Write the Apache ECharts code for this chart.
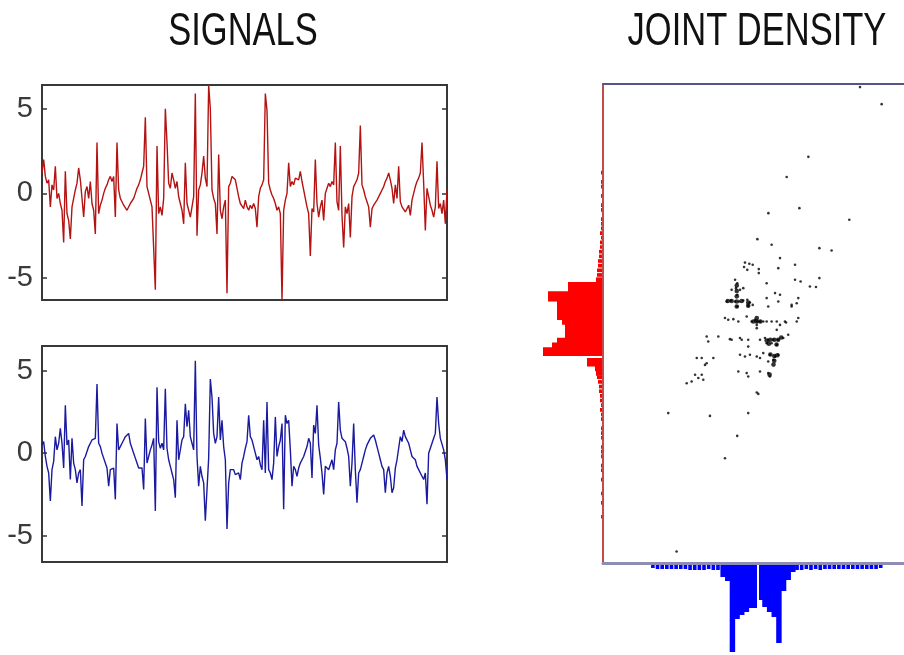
<!DOCTYPE html>
<html><head><meta charset="utf-8">
<script src="https://cdn.jsdelivr.net/npm/echarts@6/dist/echarts.min.js"></script>
<style>html,body{margin:0;padding:0;background:#fff}#c{width:904px;height:655px}</style>
</head><body><div id="c"></div>
<script>
// ---------------- data ----------------
const titles = ['SIGNALS', 'JOINT DENSITY'];

const redSignal = [1.2,2.0,1.0,0.6,0.8,-0.8,0.5,0.2,1.6,-0.3,
 0.0,-0.6,-1.0,-2.9,1.3,-1.2,-1.6,-2.7,-0.8,-0.3,
 0.2,0.6,1.5,0.8,0.9,-1.4,0.1,0.4,-0.3,0.7,
 -0.6,-1.0,-2.4,3.0,-1.2,-0.7,-0.4,0.0,0.3,0.5,
 0.8,1.0,0.7,1.0,-1.4,3.0,0.2,-0.3,-0.5,-0.7,
 -0.8,-1.0,-0.9,-0.6,-0.5,-0.3,0.0,0.3,0.5,0.8,
 1.2,1.6,4.5,0.4,0.0,-0.4,-0.8,-0.9,-5.7,2.8,
 -1.2,-0.8,-1.3,-0.3,5.0,3.0,0.6,0.3,1.2,0.8,
 0.3,0.7,-0.2,-0.6,-1.0,-1.8,1.8,-0.6,-0.5,-1.4,
 -0.8,-0.2,5.9,-2.5,0.2,0.5,1.2,2.2,0.9,0.4,
 6.4,5.0,0.2,-0.3,-0.6,-2.4,2.3,-1.0,-1.5,-0.8,
 -0.4,-5.9,0.4,0.6,1.0,1.1,0.8,0.3,-0.2,-0.6,
 -0.7,-0.9,-0.4,-0.8,-1.0,-0.7,-0.9,-0.6,-0.9,-2.0,
 -0.2,0.3,0.5,0.8,5.9,4.9,0.6,0.2,-0.1,-0.3,
 -0.6,-1.0,-0.8,-1.2,-6.3,-1.0,-0.4,0.0,1.8,0.4,
 0.7,0.5,0.9,1.0,0.8,1.3,0.7,0.2,-0.3,-0.8,
 -1.2,-3.7,-0.9,-1.1,2.0,-0.6,-1.4,-0.8,-0.4,-1.6,
 0.0,0.3,0.6,0.4,0.7,0.5,3.0,-0.5,-1.0,2.8,
 -1.3,-3.2,-0.8,-1.2,-0.6,-2.6,-0.2,0.4,0.6,0.8,
 1.2,4.0,0.5,0.2,-0.2,-0.5,-0.8,-2.0,-0.9,-0.7,
 -0.6,-0.4,-0.2,0.0,0.2,0.4,0.7,0.9,1.2,0.8,
 0.3,-0.6,0.5,-0.3,1.6,-0.5,-0.8,-0.9,-1.1,-0.9,
 -0.7,-1.3,-0.4,0.0,0.4,0.7,0.9,1.2,3.0,0.6,
 -2.2,0.3,-0.2,-0.7,-1.0,-1.4,-0.8,1.9,-0.9,-0.6,
 -1.2,-0.4,-1.8,0.2];

const blueSignal = [0.5,0.7,-0.2,-0.8,-1.2,-2.9,-1.0,-0.5,1.0,0.2,
 0.6,1.5,0.6,-0.9,2.9,0.5,0.8,-1.6,0.9,-0.6,
 -1.0,-1.8,-1.2,-1.0,-3.2,-0.4,-0.2,0.1,0.4,0.6,
 0.8,0.7,0.9,4.2,0.6,0.4,0.0,-0.3,-0.6,-0.9,
 -2.0,-1.0,-1.1,-0.9,-2.8,1.8,0.2,0.4,0.6,0.8,
 1.0,0.9,1.2,0.6,0.3,0.0,-0.3,-0.6,-0.9,-1.0,
 -0.9,-2.2,2.1,-0.6,-0.2,0.2,0.5,0.9,-3.5,4.0,
 0.7,0.3,0.6,0.2,3.9,0.3,-0.4,-0.8,-1.2,-1.6,
 -2.7,2.0,-0.4,0.2,0.8,1.0,3.0,1.6,2.6,1.0,
 0.6,0.2,5.6,-0.2,-2.0,-0.8,-1.4,-1.8,-4.1,-2.2,
 -0.3,4.5,3.4,1.2,0.6,1.0,3.4,0.8,2.0,0.4,
 -0.4,-4.6,-1.8,-1.0,-1.1,-1.0,-1.3,-1.4,-1.2,-1.6,
 -0.6,-0.2,0.3,0.7,2.3,1.0,0.8,0.4,0.0,-0.4,
 -0.2,-0.7,-1.0,2.0,-1.2,3.1,-1.0,-1.2,-1.6,-0.6,
 2.2,-0.2,0.4,0.8,1.8,-3.4,2.3,1.8,2.0,0.2,
 -2.0,-0.8,-1.0,-1.4,-0.9,-0.6,-0.4,-0.2,0.1,0.4,
 0.9,0.6,-1.5,1.7,1.2,2.9,0.5,-0.3,-1.2,-2.5,
 -0.8,-0.9,-1.0,-0.7,-0.4,-1.0,0.2,0.6,3.1,1.4,
 0.9,1.0,0.7,0.3,-0.2,-2.0,-0.6,1.8,-1.0,-3.0,
 -1.2,-1.0,-0.6,-0.2,0.2,0.5,0.7,0.9,1.0,1.1,
 0.8,0.4,0.0,-0.4,-0.8,-1.0,-2.4,-1.2,-0.8,-1.4,
 -2.4,-2.1,-0.9,-0.4,0.3,1.0,0.7,1.4,1.0,0.9,
 0.6,0.2,-0.2,-0.3,-0.4,-0.8,-1.0,-1.2,-1.4,-1.6,
 -1.2,-3.1,0.0,0.3,0.6,0.9,1.2,3.4,1.8,0.9,
 0.8,0.2,-0.4,-1.6];

const signalTicks = [-5, 0, 5];

// joint density: [blue value, red value]
const scatterPoints = [
 [-0.84,6.08],[-0.56,6.0],[-0.34,5.94],[-0.9,5.79],[-0.69,5.61],[0.05,5.66],[0.05,5.4],
 [-1.48,4.97],[-1.34,4.75],[-1.42,4.43],[-1.7,4.32],[-1.16,4.32],[-0.95,4.43],[-1.34,4.0],
 [-2.02,3.57],[-1.76,3.63],[-1.48,3.57],[-1.21,3.57],[-0.95,3.63],[-0.69,3.68],[-0.52,3.5],
 [-1.34,3.25],[-0.63,3.29],[-0.34,3.35],
 [-2.13,2.5],[-1.92,2.39],[-1.59,2.43],[-1.27,2.28],[-0.73,2.6],[-0.41,2.28],[-0.19,2.39],
 [-0.05,2.28],[0.13,2.28],[0.34,2.28],[0.56,2.28],[0.88,2.28],[1.21,2.28],[1.74,2.28],[1.81,2.21],
 [-0.08,2.06],[-0.08,1.85],
 [0.13,1.1],[0.45,1.21],[0.66,1.1],[0.99,1.1],[1.31,1.1],[1.63,1.21],[1.95,1.42],
 [0.56,0.88],[0.88,0.88],[1.21,0.77],[0.34,0.24],[0.77,0.13],[1.1,0.02],[1.31,0.13],
 [0.99,-0.19],[0.66,-0.3],
 [-3.31,1.31],[-3.21,0.99],[-2.56,1.31],[-1.81,1.14],[-1.7,1.1],[-1.16,1.21],[-1.05,1.1],
 [-0.63,1.1],[-0.63,0.66],[-1.16,0.13],[-0.84,0.02],[-0.52,0.13],[-0.08,0.02],[0.13,-0.08],
 [-1.27,-0.95],[-0.73,-1.05],[-0.63,-1.27],[0.13,-0.95],[0.66,-1.05],[0.77,-1.27],
 [-0.08,-2.3],[0.02,-2.39],
 [-3.95,-0.08],[-3.63,-0.08],[-2.88,-0.08],[-3.42,-0.52],[-3.31,-0.41],[-4.06,-1.16],
 [-3.85,-1.37],[-3.63,-1.16],[-3.53,-1.48],[-4.6,-1.7],[-4.28,-1.59],
 [0.56,4.75],[1.1,4.11],[1.42,4.0],[1.31,3.57],[0.56,3.79],[0.66,3.25],[2.17,3.35],[2.5,3.46],
 [2.6,2.5],[2.5,2.28],[1.42,2.06],[1.21,1.74],[2.39,4.97],[1.42,6.37],[1.31,5.72],[2.39,5.94],
 [6.58,17.4],[7.98,16.3],[3.25,12.9],[1.85,11.6],[0.67,9.27],[2.67,9.59],[5.89,8.84],
 [-0.04,7.59],[0.88,7.23],[3.96,7.01],[4.75,6.86],[2.75,4.86],[3.96,5.08],[3.35,4.54],
 [3.74,4.5],[2.6,3.79],[2.17,3.25],
 [-5.79,-3.63],[-3.1,-3.81],[-0.63,-3.63],[-1.34,-5.1],[-2.13,-6.54],[-5.25,-12.56]
];
const denseBlobs = [
 [-1.37,3.57],[-1.37,3.9],[-1.37,4.25],[-1.37,4.6],[-1.05,3.6],[-1.7,3.6],[-1.95,3.6],
 [-0.63,3.5],[-0.63,3.3],[-1.37,3.25],
 [-0.08,2.28],[-0.08,2.5],[-0.3,2.28],[0.15,2.28],
 [0.56,1.05],[0.8,1.1],[1.05,1.1],[1.3,1.1],[1.5,1.25],[0.7,0.85],[1.2,0.8],
 [1.05,0.05],[0.8,0.15],[1.05,-0.25],[1.25,0.1],[1.0,-0.5],
 [0.75,-1.15]
];

const histBinWidth = 0.3;
// red marginal (red signal value), bins going upward from redHistStart
const redHistStart = -10.5;
const redHistCounts = [
 1,0,0,1,0,1,0,0,1,0,1,1,0,1,1,
 1,0,1,1,1,0,1,1,2,1,2,2,3,3,4,5,6,7,15,15,
 59,59,50,45,37,37,37,40,45,45,45,45,54,54,34,34,
 6,5,5,4,4,3,3,2,2,1,2,1,1,1,0,1,1,0,1,0,1,1,0,1,0
];
// blue marginal (blue signal value), bins going right from blueHistStart
const blueHistStart = -6.9;
const blueHistCounts = [
 3,4,4,4,4,4,4,4,5,5,5,5,4,5,5,12,16,87,54,50,47,43,43,
 35,42,47,52,78,26,15,7,5,5,4,5,4,5,4,4,4,4,4,4,4,4,4,4,4,4,3
];

// ---------------- chart ----------------
const sans = "'Liberation Sans',Arial,Helvetica,sans-serif";
const chart = echarts.init(document.getElementById('c'), null, {renderer: 'canvas'});

function idxPairs(arr) { return arr.map((v, i) => [i, v]); }
function bins(start, counts) { return counts.map((c, i) => [start + i * histBinWidth, start + (i + 1) * histBinWidth, c]); }

function signalYAxes(gridIndex, min, max) {
  const base = {
    gridIndex, type: 'value', min, max,
    splitLine: {show: false}, axisLine: {show: false},
    axisTick: {show: true, inside: true, length: 5, customValues: signalTicks, lineStyle: {color: '#333', width: 1.5}}
  };
  return [
    Object.assign({}, base, {position: 'left', axisLabel: {show: true, customValues: signalTicks, margin: 9, fontSize: 29, color: '#3a3a3a', fontFamily: sans}}),
    Object.assign({}, base, {position: 'right', axisLabel: {show: false}})
  ];
}

function histRect(params, api, horizontal) {
  const lo = api.value(0), hi = api.value(1), c = api.value(2);
  if (!c) return null;
  let p1, p2;
  if (horizontal) { p1 = api.coord([0, hi]); p2 = api.coord([c, lo]); }
  else { p1 = api.coord([lo, 0]); p2 = api.coord([hi, c]); }
  let x = Math.min(p1[0], p2[0]), y = Math.min(p1[1], p2[1]);
  let w = Math.abs(p2[0] - p1[0]), h = Math.abs(p2[1] - p1[1]);
  if (c < 6) { if (horizontal) h -= 1; else w -= 1; }
  else { if (horizontal) { y -= 0.4; h += 0.8; } else { x -= 0.4; w += 0.8; } }
  return {type: 'rect', shape: {x, y, width: w, height: h}, style: {fill: api.visual('color')}};
}

const sxMin = -10, sxMax = 9.42, syMin = -13.3, syMax = 17.6;

chart.setOption({
  backgroundColor: '#fff',
  animation: false,
  graphic: [
    {type: 'text', x: 243, y: 9, scaleX: 0.75, silent: true,
     style: {text: titles[0], fontSize: 46, fontFamily: sans, fill: '#111', textAlign: 'center', textVerticalAlign: 'top'}},
    {type: 'text', x: 757, y: 9, scaleX: 0.75, silent: true,
     style: {text: titles[1], fontSize: 46, fontFamily: sans, fill: '#111', textAlign: 'center', textVerticalAlign: 'top'}}
  ],
  grid: [
    {left: 42, top: 85, width: 405, height: 215, show: true, borderColor: '#383838', borderWidth: 2, backgroundColor: 'transparent'},
    {left: 42, top: 346, width: 405, height: 216, show: true, borderColor: '#383838', borderWidth: 2, backgroundColor: 'transparent'},
    {left: 603, top: 84, width: 301, height: 479},
    {left: 530, top: 84, width: 72, height: 479},
    {left: 603, top: 565, width: 301, height: 90}
  ],
  xAxis: [
    {gridIndex: 0, type: 'value', min: 0, max: redSignal.length - 1, show: false},
    {gridIndex: 1, type: 'value', min: 0, max: blueSignal.length - 1, show: false},
    {gridIndex: 2, type: 'value', min: sxMin, max: sxMax, position: 'bottom', splitLine: {show: false}, axisTick: {show: false}, axisLabel: {show: false}, axisLine: {show: true, onZero: false, lineStyle: {color: '#8e8eb4', width: 3}}},
    {gridIndex: 2, type: 'value', min: sxMin, max: sxMax, position: 'top', splitLine: {show: false}, axisTick: {show: false}, axisLabel: {show: false}, axisLine: {show: true, onZero: false, lineStyle: {color: '#55558a', width: 2}}},
    {gridIndex: 3, type: 'value', min: 0, max: 72, inverse: true, show: false},
    {gridIndex: 4, type: 'value', min: sxMin, max: sxMax, show: false}
  ],
  yAxis: [
    ...signalYAxes(0, -6.3, 6.4),
    ...signalYAxes(1, -6.6, 6.5),
    {gridIndex: 2, type: 'value', min: syMin, max: syMax, position: 'left', splitLine: {show: false}, axisTick: {show: false}, axisLabel: {show: false}, axisLine: {show: true, onZero: false, lineStyle: {color: '#c24c4c', width: 2}}},
    {gridIndex: 3, type: 'value', min: syMin, max: syMax, show: false},
    {gridIndex: 4, type: 'value', min: 0, max: 90, inverse: true, show: false}
  ],
  series: [
    {type: 'line', xAxisIndex: 0, yAxisIndex: 0, data: idxPairs(redSignal), showSymbol: false, lineStyle: {color: '#b51212', width: 1.4}, itemStyle: {color: '#b51212'}},
    {type: 'line', xAxisIndex: 1, yAxisIndex: 2, data: idxPairs(blueSignal), showSymbol: false, lineStyle: {color: '#1a1aa0', width: 1.4}, itemStyle: {color: '#1a1aa0'}},
    {type: 'scatter', xAxisIndex: 2, yAxisIndex: 4, data: scatterPoints, symbolSize: 2.6, itemStyle: {color: '#000'}},
    {type: 'scatter', xAxisIndex: 2, yAxisIndex: 4, data: denseBlobs, symbolSize: 4.6, itemStyle: {color: '#000'}},
    {type: 'custom', xAxisIndex: 4, yAxisIndex: 5, data: bins(redHistStart, redHistCounts), encode: {x: 2, y: [0, 1]},
     itemStyle: {color: '#ff0000'}, renderItem: (p, api) => histRect(p, api, true),
     markLine: {silent: true, symbol: 'none', label: {show: false}, lineStyle: {color: '#fff', width: 2, type: 'solid'}, data: [{yAxis: 0}]}},
    {type: 'custom', xAxisIndex: 5, yAxisIndex: 6, data: bins(blueHistStart, blueHistCounts), encode: {x: [0, 1], y: 2},
     itemStyle: {color: '#0000ff'}, renderItem: (p, api) => histRect(p, api, false),
     markLine: {silent: true, symbol: 'none', label: {show: false}, lineStyle: {color: '#fff', width: 2, type: 'solid'}, data: [{xAxis: 0}]}}
  ]
});
</script>
</body></html>
